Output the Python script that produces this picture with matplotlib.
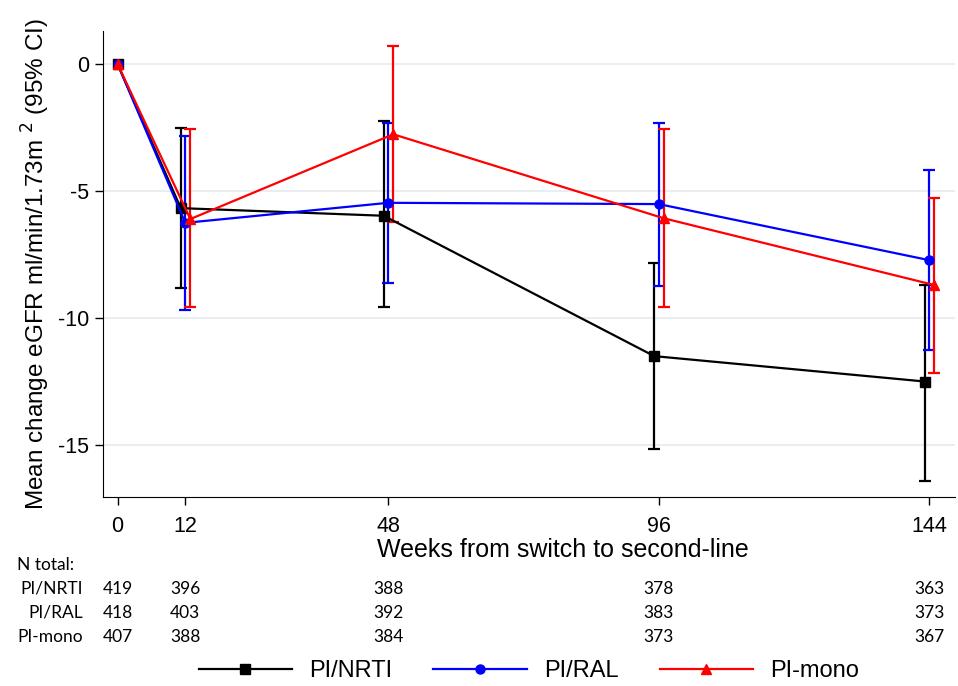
import matplotlib
matplotlib.use("Agg")
import matplotlib.pyplot as plt
import matplotlib.transforms as mtransforms
import numpy as np

plt.rcParams['font.family'] = ['Liberation Sans', 'DejaVu Sans']

# Data
weeks = [0, 12, 48, 96, 144]
groups = ["PI/NRTI", "PI/RAL", "PI-mono"]
colors = ["black", "blue", "red"]
markers = ["s", "o", "^"]
offsets = [-0.8, 0.0, 0.9]

mean_nrti = [0, -5.67, -5.97, -11.5, -12.5]
lo_nrti = [0, -8.82, -9.57, -15.15, -16.4]
hi_nrti = [0, -2.5, -2.24, -7.83, -8.7]

mean_ral = [0, -6.25, -5.46, -5.51, -7.72]
lo_ral = [0, -9.69, -8.62, -8.73, -11.26]
hi_ral = [0, -2.83, -2.32, -2.33, -4.17]

mean_mono = [0, -6.1, -2.76, -6.07, -8.7]
lo_mono = [0, -9.57, -6.2, -9.57, -12.17]
hi_mono = [0, -2.56, 0.72, -2.56, -5.26]

n_nrti = [419, 396, 388, 378, 363]
n_ral = [418, 403, 392, 383, 373]
n_mono = [407, 388, 384, 373, 367]

means = [mean_nrti, mean_ral, mean_mono]
lows = [lo_nrti, lo_ral, lo_mono]
highs = [hi_nrti, hi_ral, hi_mono]
counts = [n_nrti, n_ral, n_mono]

fig = plt.figure(figsize=(9.58, 6.86), dpi=100)
ax = fig.add_axes([0.1075, 0.2755, 0.889, 0.679])

for i in range(3):
    x = np.array([w + offsets[i] if w > 0 else w for w in weeks])
    m = np.array(means[i])
    err = np.array([m - np.array(lows[i]), np.array(highs[i]) - m])
    ax.errorbar(x[1:], m[1:], yerr=err[:, 1:], fmt="none", ecolor=colors[i],
                elinewidth=1.6, capsize=4, capthick=1.6, zorder=2)
    ax.plot(x, m, color=colors[i], marker=markers[i], markersize=6.5,
            linewidth=1.6, label=groups[i], zorder=3)

ax.set_xlim(-2.6, 148.5)
ax.set_ylim(-17.05, 1.3)
ax.set_xticks(weeks)
ax.set_xticklabels([str(w) for w in weeks], family=['Liberation Sans Narrow', 'Liberation Sans'],
                   fontsize=15.5)
ax.set_yticks([0, -5, -10, -15])
ax.set_yticklabels(["0", "-5", "-10", "-15"], fontsize=15.5)
ax.tick_params(axis="both", direction="out", length=6, width=1)
ax.tick_params(axis="x", pad=8)
ax.tick_params(axis="y", pad=4)
ax.grid(axis="y", color="#e8eef2", linewidth=1.5, zorder=0)
ax.set_axisbelow(True)
for s in ["top", "right"]:
    ax.spines[s].set_visible(False)
ax.set_ylabel("Mean change eGFR ml/min/1.73m $^{2}$ (95% CI)", fontsize=17.5, labelpad=4)
ax.set_xlabel("Weeks from switch to second-line", fontsize=18)
ax.xaxis.set_label_coords(0.54, -0.114)
ax.xaxis.label.set_va("center")

# Numbers at risk table
trans = mtransforms.blended_transform_factory(ax.transData, fig.transFigure)
table_font = ['Lato', 'DejaVu Sans']
fig.text(17 / 958, 1 - 565 / 686, "N total:", fontsize=12.5, family=table_font,
         ha="left", va="center")
row_y = [589, 613, 637]
for i in range(3):
    fig.text(83 / 958, 1 - row_y[i] / 686, groups[i], fontsize=12.5, family=table_font,
             ha="right", va="center")
    for w, n in zip(weeks, counts[i]):
        ax.text(w, 1 - row_y[i] / 686, str(n), transform=trans, fontsize=12.5,
                family=table_font, ha="center", va="center")

handles, labels = ax.get_legend_handles_labels()
fig.legend(handles, labels, loc="center", bbox_to_anchor=(0.552, 1 - 671 / 686),
           ncol=3, frameon=False, fontsize=17, handlelength=3.95, columnspacing=1.75,
           handletextpad=0.72)

fig.savefig("out.png", dpi=100)
